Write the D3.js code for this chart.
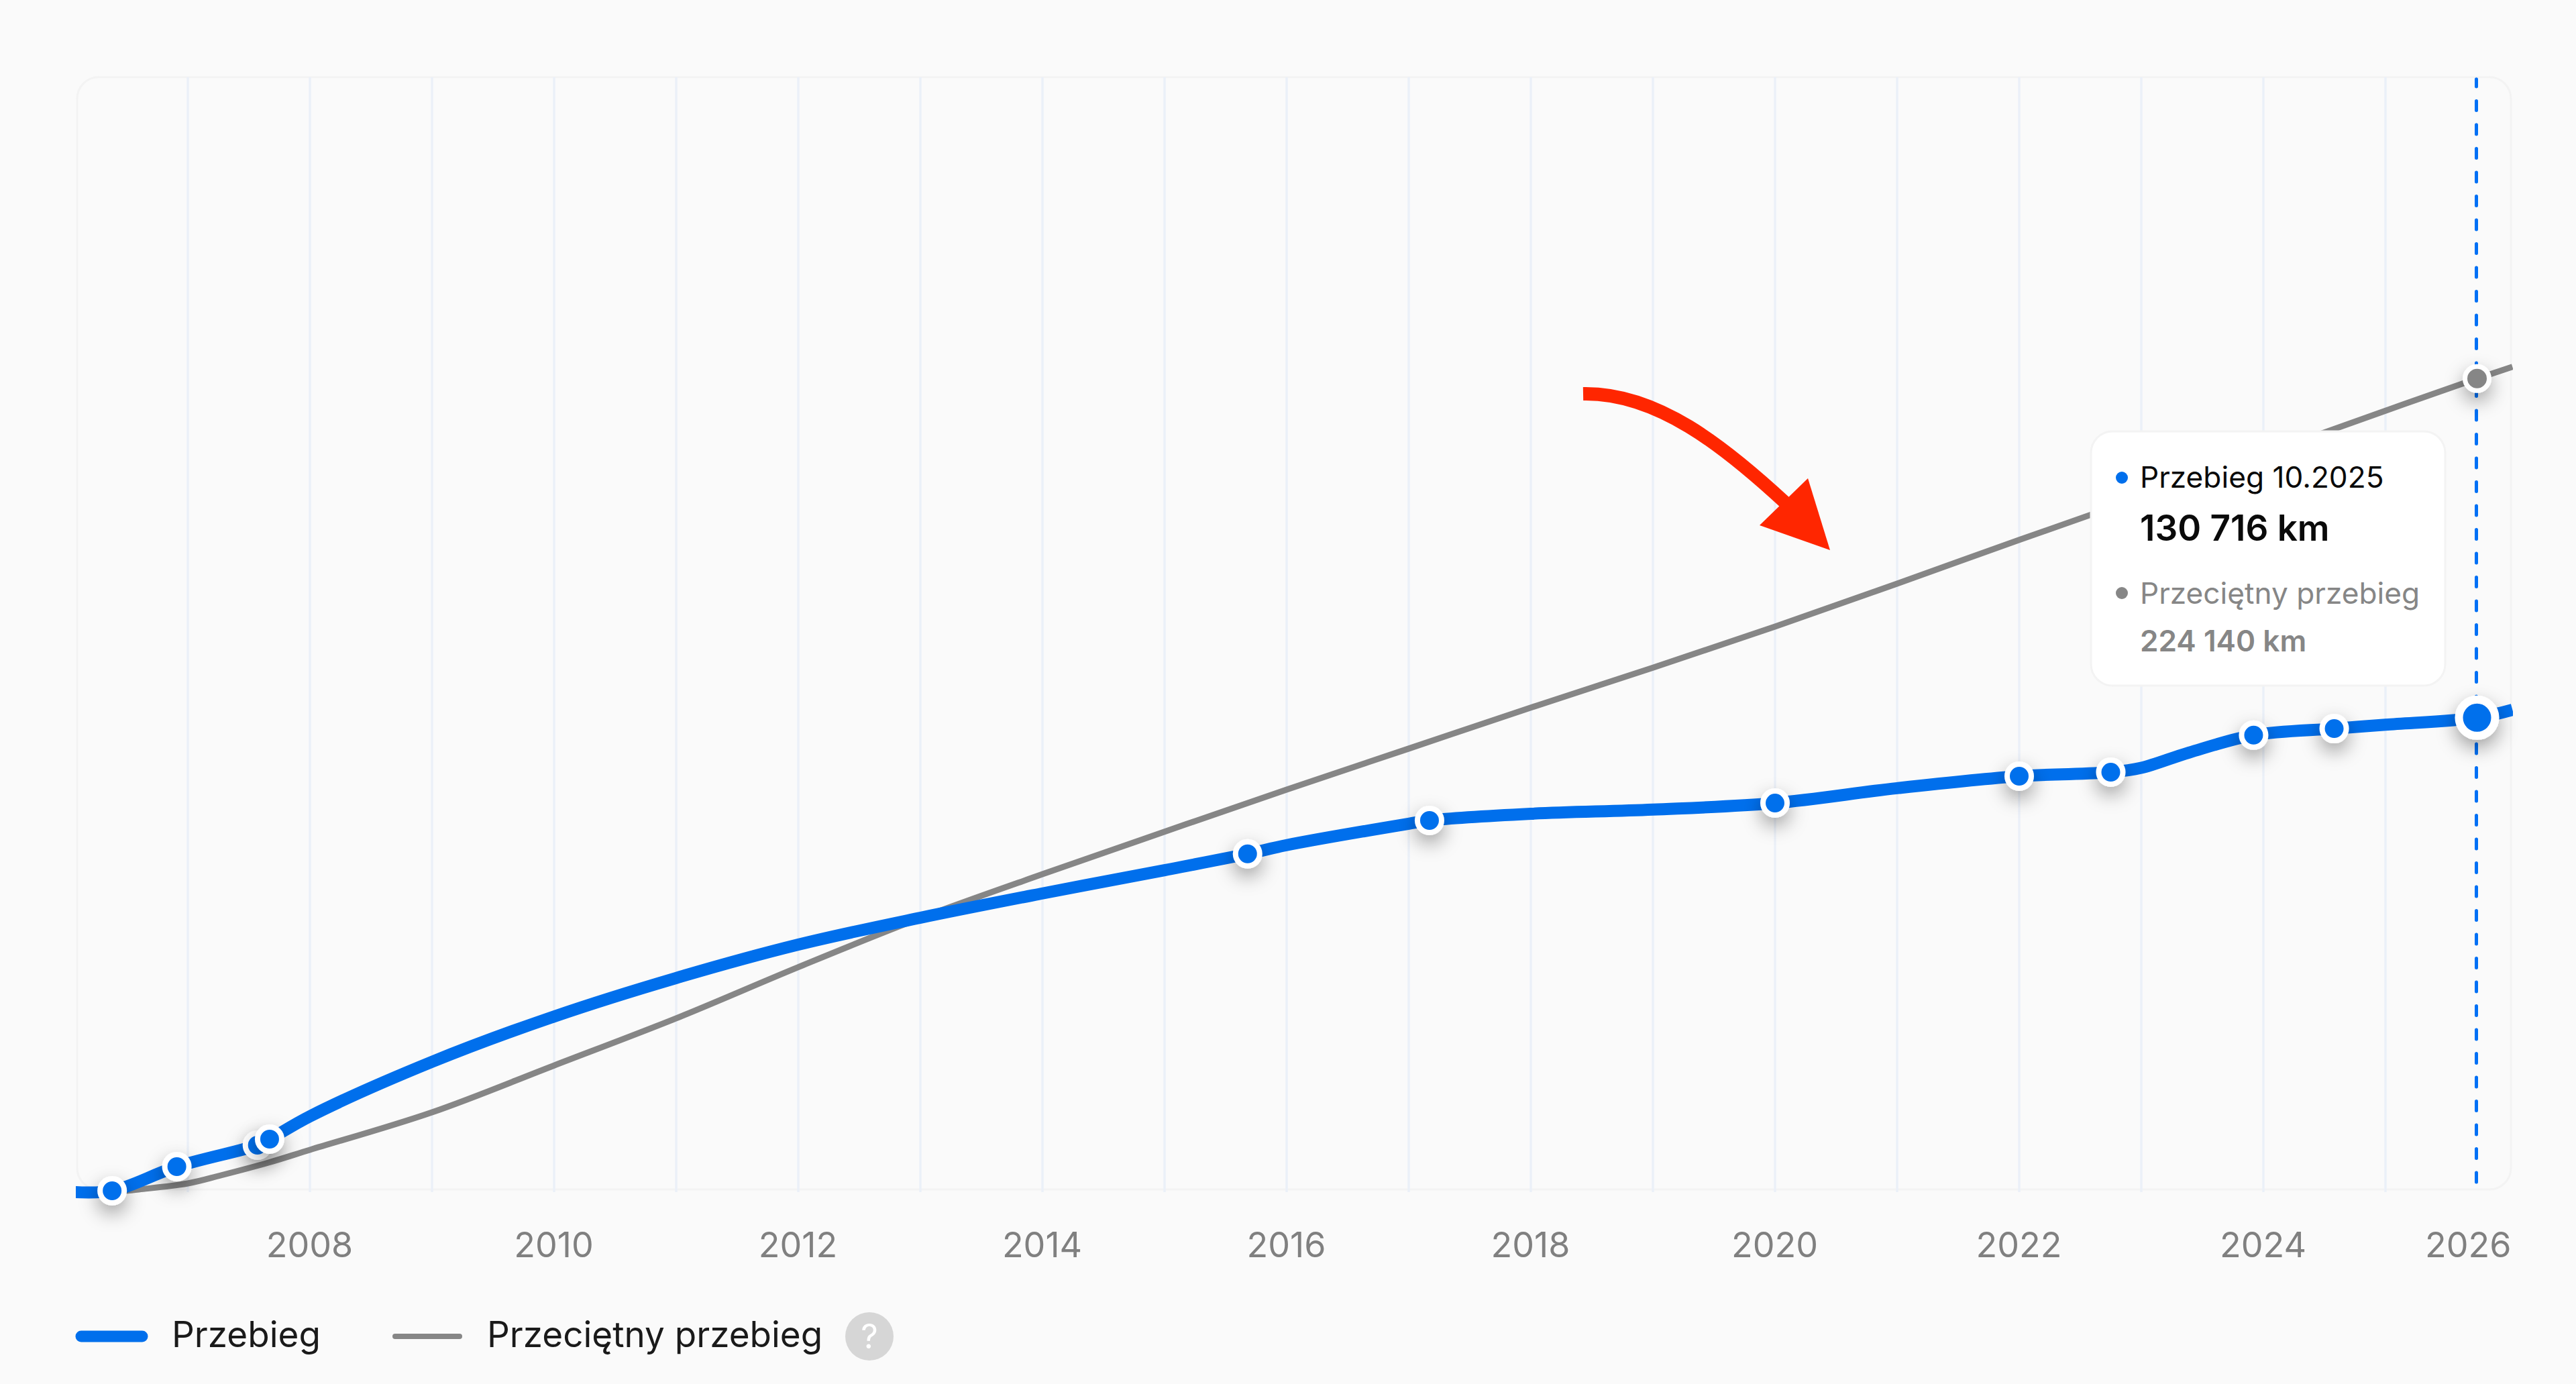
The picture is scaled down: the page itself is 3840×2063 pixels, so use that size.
<!DOCTYPE html>
<html lang="pl">
<head>
<meta charset="utf-8">
<title>Przebieg</title>
<script src="https://cdn.jsdelivr.net/npm/d3@7"></script>
<style>
  html, body { margin: 0; background: #fafafa; }
  svg { display: block; font-family: Inter, "Noto Sans", sans-serif; }
</style>
</head>
<body>
<svg id="chart" width="3840" height="2063"></svg>
<script>
// values
const gridYears = d3.range(2007, 2026)
const tickYears = [2008, 2010, 2012, 2014, 2016, 2018, 2020, 2022, 2024, 2026]

const mileageYears = [2006.08, 2006.38, 2006.91, 2007.57, 2007.67, 2008, 2009, 2010, 2011, 2012, 2013, 2014, 2015, 2015.68, 2016, 2017, 2017.17, 2018, 2019, 2020, 2021, 2022, 2022.75, 2023, 2023.39, 2023.92, 2024.58, 2025, 2025.75, 2026.04]
const mileageKm = [0, 370, 7020, 12940, 14600, 20900, 35900, 48400, 59000, 68200, 75600, 82300, 88700, 93200, 95600, 101500, 102400, 104250, 105400, 107200, 111300, 114600, 115700, 116900, 121100, 125900, 127700, 128800, 130716, 132900]

// the years that carry a dot on the blue line
const pointYears = [2006.38, 2006.91, 2007.57, 2007.67, 2015.68, 2017.17, 2020, 2022, 2022.75, 2023.92, 2024.58]

const averageYears = [2006.38, 2006.6, 2007, 2007.27, 2007.66, 2008, 2009, 2010, 2011, 2012, 2013, 2014, 2015, 2016, 2017, 2018, 2019, 2020, 2021, 2022, 2023, 2024, 2025, 2025.75, 2026.04]
const averageKm = [0, 740, 2400, 4620, 8130, 11650, 22000, 34900, 47900, 62000, 75500, 87600, 99300, 110900, 122200, 133500, 144500, 155800, 167650, 179700, 191500, 203300, 215300, 224140, 227400]

const currentYear = 2025.75
const currentKm = 130716
const currentAverageKm = 224140
const currentLabel = "Przebieg 10.2025"

const blue = "#006fec"
const grey = "#868686"

const plot = { left: 115, right: 3743, top: 115, bottom: 1773 }

const x = d3.scaleLinear().domain([2008, 2026]).range([462, 3738])
const y = d3.scaleLinear().domain([0, 307200]).range([1777, 115])

const km = d3.formatLocale({ decimal: ",", thousands: " ", grouping: [3], currency: ["", ""] }).format(",d")

const svg = d3.select("#chart")
svg.append("rect").attr("width", 3840).attr("height", 2063).attr("fill", "#fafafa")

const defs = svg.append("defs")
defs.append("clipPath").attr("id", "plotClip")
    .append("rect").attr("x", 113).attr("y", 0).attr("width", 3633).attr("height", 2000)

const shadow = defs.append("filter").attr("id", "dotShadow")
    .attr("x", "-200%").attr("y", "-200%").attr("width", "500%").attr("height", "500%")
shadow.append("feDropShadow")
    .attr("dx", 0).attr("dy", 12).attr("stdDeviation", 14)
    .attr("flood-color", "#000").attr("flood-opacity", 0.36)

// frame
svg.append("rect")
    .attr("x", plot.left).attr("y", plot.top)
    .attr("width", plot.right - plot.left).attr("height", plot.bottom - plot.top)
    .attr("rx", 32)
    .attr("fill", "none").attr("stroke", "#f3f3f3").attr("stroke-width", 3)

// year grid
svg.append("g").selectAll("line").data(gridYears).join("line")
    .attr("x1", d => x(d)).attr("x2", d => x(d))
    .attr("y1", plot.top).attr("y2", 1777)
    .attr("stroke", "#ebf0f8").attr("stroke-width", 3.5)

// x axis, only the labels are visible
const axis = svg.append("g")
    .attr("transform", "translate(0,1828)")
    .call(d3.axisBottom(x).tickValues(tickYears).tickFormat(d3.format("d")).tickSize(0).tickPadding(0))
axis.select(".domain").remove()
axis.selectAll("text")
    .attr("y", 0).attr("dy", 46).attr("x", -1)
    .attr("fill", "#808080")
    .style("font-family", "Inter").style("font-size", "52px")
axis.selectAll(".tick").filter(d => d === 2026).select("text")
    .attr("text-anchor", "end").attr("x", plot.right - x(2026))

const line = d3.line().x(d => x(d[0])).y(d => y(d[1])).curve(d3.curveCatmullRom.alpha(0.5))

const lines = svg.append("g").attr("clip-path", "url(#plotClip)").attr("fill", "none")
lines.append("path")
    .attr("d", line(d3.zip(averageYears, averageKm)))
    .attr("stroke", grey).attr("stroke-width", 9)

lines.append("path")
    .attr("d", line(d3.zip(mileageYears, mileageKm)))
    .attr("stroke", blue).attr("stroke-width", 18)

// current month marker
svg.append("line")
    .attr("x1", x(currentYear) - 1).attr("x2", x(currentYear) - 1)
    .attr("y1", 1762).attr("y2", plot.top + 3)
    .attr("stroke", "#0070f5").attr("stroke-width", 5)
    .attr("stroke-linecap", "round").attr("stroke-dasharray", "14 21.5")

const dots = svg.append("g")
dots.selectAll("circle").data(pointYears).join("circle")
    .attr("cx", d => x(d))
    .attr("cy", d => y(mileageKm[mileageYears.indexOf(d)]))
    .attr("r", 18)
    .attr("fill", blue).attr("stroke", "#fff").attr("stroke-width", 8)
    .attr("filter", "url(#dotShadow)")

dots.append("circle")
    .attr("cx", x(currentYear)).attr("cy", y(currentAverageKm))
    .attr("r", 18)
    .attr("fill", grey).attr("stroke", "#fff").attr("stroke-width", 7)
    .attr("filter", "url(#dotShadow)")

dots.append("circle")
    .attr("cx", x(currentYear)).attr("cy", y(currentKm))
    .attr("r", 27)
    .attr("fill", blue).attr("stroke", "#fff").attr("stroke-width", 12)
    .attr("filter", "url(#dotShadow)")

// tooltip
const tip = svg.append("g")
tip.append("rect")
    .attr("x", 3117).attr("y", 643).attr("width", 528).attr("height", 379)
    .attr("rx", 32)
    .attr("fill", "#fff").attr("stroke", "#f3f3f3").attr("stroke-width", 3)
tip.append("circle").attr("cx", 3163).attr("cy", 712).attr("r", 9).attr("fill", blue)
tip.append("circle").attr("cx", 3163).attr("cy", 884).attr("r", 9).attr("fill", grey)
tip.append("text").attr("x", 3190).attr("y", 727)
    .attr("fill", "#0a0a0a").style("font-size", "44.2px")
    .text(currentLabel)
tip.append("text").attr("x", 3190).attr("y", 806)
    .attr("fill", "#0a0a0a").style("font-size", "53px").style("font-weight", 600)
    .text(km(currentKm) + " km")
tip.append("text").attr("x", 3190).attr("y", 900)
    .attr("fill", grey).style("font-size", "44.2px")
    .text("Przeciętny przebieg")
tip.append("text").attr("x", 3190).attr("y", 971)
    .attr("fill", grey).style("font-size", "44.2px").style("font-weight", 600)
    .text(km(currentAverageKm) + " km")

// legend
const legend = svg.append("g")
legend.append("line").attr("x1", 121).attr("x2", 212).attr("y1", 1992).attr("y2", 1992)
    .attr("stroke", blue).attr("stroke-width", 17).attr("stroke-linecap", "round")
legend.append("text").attr("x", 256).attr("y", 2008)
    .attr("fill", "#1a1a1a").style("font-size", "53px").text("Przebieg")
legend.append("line").attr("x1", 589).attr("x2", 685).attr("y1", 1992).attr("y2", 1992)
    .attr("stroke", grey).attr("stroke-width", 8).attr("stroke-linecap", "round")
legend.append("text").attr("x", 726).attr("y", 2008)
    .attr("fill", "#1a1a1a").style("font-size", "53px").text("Przeciętny przebieg")
legend.append("circle").attr("cx", 1296).attr("cy", 1992).attr("r", 36).attr("fill", "#d6d6d6")
legend.append("text").attr("x", 1296).attr("y", 2010).attr("text-anchor", "middle")
    .attr("fill", "#fff").style("font-size", "50px").text("?")

// red arrow annotation
const arrow = svg.append("g")
arrow.append("path")
    .attr("d", "M2360,587 C2470,585 2570,665 2662,750")
    .attr("fill", "none").attr("stroke", "#ff2600").attr("stroke-width", 20)
arrow.append("path")
    .attr("d", "M2695,713 L2623,783 L2728,820 Z")
    .attr("fill", "#ff2600")
</script>
</body>
</html>
